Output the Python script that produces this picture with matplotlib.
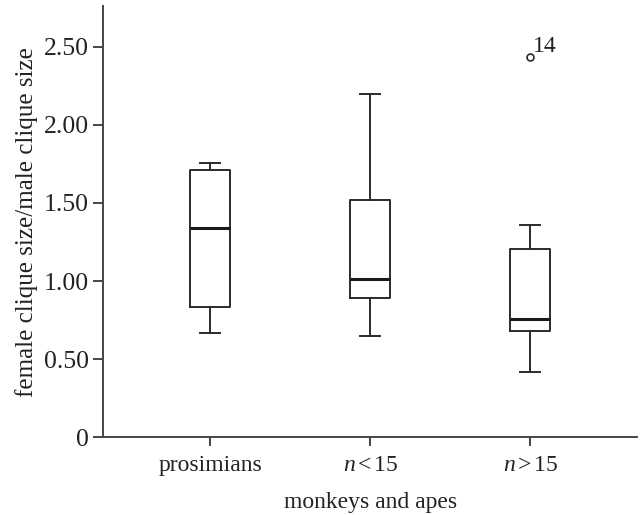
import matplotlib
matplotlib.use('Agg')
import matplotlib.pyplot as plt

# 박스플롯 데이터
categories = ['prosimians', r'$n$$\,$<$\,$15', r'$n$$\,$>$\,$15']
whisker_low = [0.668, 0.651, 0.417]
q1 = [0.833, 0.889, 0.683]
median = [1.337, 1.015, 0.756]
q3 = [1.713, 1.521, 1.205]
whisker_high = [1.756, 2.20, 1.361]
outliers = [[], [], [2.436]]
outlier_labels = [[], [], ['14']]

yticks = [0, 0.5, 1.0, 1.5, 2.0, 2.5]
ytick_labels = ['0', '0.50', '1.00', '1.50', '2.00', '2.50']

plt.rcParams['font.family'] = ['Liberation Serif', 'DejaVu Serif']
plt.rcParams['mathtext.fontset'] = 'custom'
plt.rcParams['mathtext.it'] = 'Liberation Serif:italic'
plt.rcParams['mathtext.rm'] = 'Liberation Serif'

line_col = '#2b2b2b'

stats = []
for i in range(len(categories)):
    stats.append({
        'whislo': whisker_low[i], 'q1': q1[i], 'med': median[i],
        'q3': q3[i], 'whishi': whisker_high[i], 'fliers': outliers[i],
    })

fig = plt.figure(figsize=(6.4, 5.15), dpi=100)
ax = fig.add_axes([0.161, 0.151, 0.835, 0.837])

positions = [1, 2, 3]
ax.bxp(stats, positions=positions, widths=0.25, showfliers=True,
       boxprops=dict(color=line_col, linewidth=1.4),
       whiskerprops=dict(color=line_col, linewidth=1.4),
       capprops=dict(color=line_col, linewidth=1.4),
       medianprops=dict(color='#1a1a1a', linewidth=2.2),
       flierprops=dict(marker='o', markersize=5, markerfacecolor='white',
                       markeredgecolor=line_col, markeredgewidth=1.2))

# 이상치 번호 표시
for i, labs in enumerate(outlier_labels):
    for val, lab in zip(outliers[i], labs):
        ax.annotate(lab, (positions[i], val), xytext=(2, 0),
                    textcoords='offset points', fontsize=17, color='#222222',
                    ha='left', va='bottom')

ax.set_xlim(0.33, 3.67)
ax.set_ylim(0, 2.76)
ax.set_xticks(positions)
ax.set_xticklabels(categories, fontsize=17)
ax.set_yticks(yticks)
ax.set_yticklabels(ytick_labels, fontsize=18.5)

for s in ['top', 'right']:
    ax.spines[s].set_visible(False)
for s in ['left', 'bottom']:
    ax.spines[s].set_color('#444444')
    ax.spines[s].set_linewidth(1.4)

ax.tick_params(axis='both', direction='out', color='#444444', width=1.4, labelcolor='#222222')
ax.tick_params(axis='y', length=7, pad=3)
ax.tick_params(axis='x', length=6.5, pad=6)

ax.set_xlabel('monkeys and apes', fontsize=17, color='#222222', labelpad=12)
ax.set_ylabel('female clique size/male clique size', fontsize=18, color='#222222', labelpad=4)

fig.savefig('out.png', dpi=100)
